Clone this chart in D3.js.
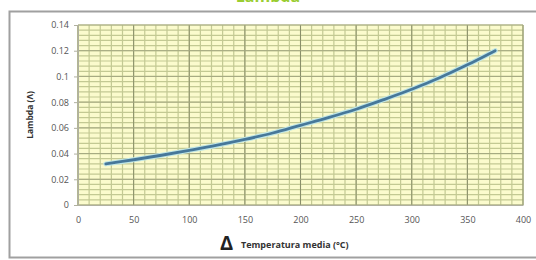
<!DOCTYPE html>
<html>
<head>
<meta charset="utf-8">
<script src="https://cdn.jsdelivr.net/npm/d3@7"></script>
<style>
	body { margin: 0; background: #fff; }
	svg text { font-family: "Open Sans", "Liberation Sans", sans-serif; }
</style>
</head>
<body>
<div id="chart"></div>
<script>
	"use strict";

	// data
	var temps = [25, 50, 75, 100, 125, 150, 175, 200, 225, 250, 275, 300, 325, 350, 375];
	var lambdas = [0.032, 0.0352, 0.0387, 0.0425, 0.0465, 0.051, 0.056, 0.062, 0.068, 0.0745, 0.082, 0.090, 0.099, 0.109, 0.120];
	var xTicks = [0, 50, 100, 150, 200, 250, 300, 350, 400];
	var yTicks = [0, 0.02, 0.04, 0.06, 0.08, 0.1, 0.12, 0.14];
	var titleText = "Lambda";
	var xLabel = "Temperatura media (°C)";
	var yLabel = "Lambda (Λ)";

	var W = 536, H = 260;
	var margin = {left: 78, right: 13, top: 25, bottom: 55};

	var svg = d3.select("#chart").append("svg")
		.attr("width", W)
		.attr("height", H);

	// outer frame
	svg.append("rect")
		.attr("x", 9.5).attr("y", 11.5)
		.attr("width", 530).attr("height", 246)
		.attr("fill", "#fff")
		.attr("stroke", "#a0a0a0")
		.attr("stroke-width", 2);

	// title, cut off at the top like in the source
	svg.append("text")
		.attr("x", 268).attr("y", 2)
		.attr("text-anchor", "middle")
		.attr("font-size", 16)
		.attr("font-weight", "bold")
		.attr("fill", "#9acd32")
		.text(titleText);

	var xScale = d3.scaleLinear().domain([0, 400]).range([margin.left, W - margin.right]);
	var yScale = d3.scaleLinear().domain([0, 0.14]).range([H - margin.bottom, margin.top]);

	// plot background
	svg.append("rect")
		.attr("x", xScale(0)).attr("y", yScale(0.14))
		.attr("width", xScale(400) - xScale(0))
		.attr("height", yScale(0) - yScale(0.14))
		.attr("fill", "#fbfbcd");

	var grid = svg.append("g");

	// minor grid
	grid.selectAll("line.vmin")
		.data(d3.range(0, 401, 10))
		.enter().append("line")
		.attr("x1", d => xScale(d)).attr("x2", d => xScale(d))
		.attr("y1", yScale(0)).attr("y2", yScale(0.14))
		.attr("stroke", "#c3c993").attr("stroke-width", 1.2);

	grid.selectAll("line.hmin")
		.data(d3.range(0, 36).map(i => i * 0.004))
		.enter().append("line")
		.attr("x1", xScale(0)).attr("x2", xScale(400))
		.attr("y1", d => yScale(d)).attr("y2", d => yScale(d))
		.attr("stroke", "#c3c993").attr("stroke-width", 1.2);

	// major grid
	grid.selectAll("line.vmaj")
		.data(xTicks)
		.enter().append("line")
		.attr("x1", d => xScale(d)).attr("x2", d => xScale(d))
		.attr("y1", yScale(0)).attr("y2", yScale(0.14))
		.attr("stroke", "#8a8f6a").attr("stroke-width", 1);

	grid.selectAll("line.hmaj")
		.data(yTicks)
		.enter().append("line")
		.attr("x1", xScale(0)).attr("x2", xScale(400))
		.attr("y1", d => yScale(d)).attr("y2", d => yScale(d))
		.attr("stroke", "#a5a982").attr("stroke-width", 1);

	// axes
	var xAxis = svg.append("g")
		.attr("transform", "translate(0," + yScale(0) + ")")
		.call(d3.axisBottom(xScale).tickValues(xTicks).tickSize(0).tickPadding(12).tickFormat(d3.format("d")));
	var yAxis = svg.append("g")
		.attr("transform", "translate(" + xScale(0) + ",0)")
		.call(d3.axisLeft(yScale).tickValues(yTicks).tickSize(4).tickPadding(5).tickFormat(d => d === 0 ? "0" : String(+d.toFixed(2))));

	[xAxis, yAxis].forEach(function(a) {
		a.select(".domain").attr("stroke", "#b0b0a0");
		a.selectAll(".tick line").attr("stroke", "#b0b0a0");
		a.selectAll("text").attr("font-size", 9).attr("fill", "#555")
			.attr("font-family", "'Open Sans', sans-serif");
	});

	// curve
	var line = d3.line()
		.x((d, i) => xScale(temps[i]))
		.y(d => yScale(d))
		.curve(d3.curveCatmullRom);

	svg.append("path")
		.datum(lambdas)
		.attr("d", line)
		.attr("fill", "none")
		.attr("stroke", "#bfe6e6")
		.attr("stroke-width", 5)
		.attr("stroke-linecap", "round");
	svg.append("path")
		.datum(lambdas)
		.attr("d", line)
		.attr("fill", "none")
		.attr("stroke", "#47789a")
		.attr("stroke-width", 2.8)
		.attr("stroke-linecap", "round");

	// axis titles
	var xl = svg.append("g").attr("transform", "translate(220,250)");
	xl.append("text")
		.attr("x", 0).attr("y", 0)
		.attr("font-size", 20)
		.attr("font-weight", "bold")
		.attr("fill", "#222")
		.text("Δ");
	xl.append("text")
		.attr("x", 21).attr("y", -2)
		.attr("font-size", 9)
		.attr("font-weight", "bold")
		.attr("fill", "#333")
		.text(xLabel);

	svg.append("text")
		.attr("transform", "translate(33," + yScale(0.07) + ") rotate(-90)")
		.attr("text-anchor", "middle")
		.attr("font-size", 8.5)
		.attr("font-weight", "bold")
		.attr("fill", "#333")
		.text(yLabel);
</script>
</body>
</html>
